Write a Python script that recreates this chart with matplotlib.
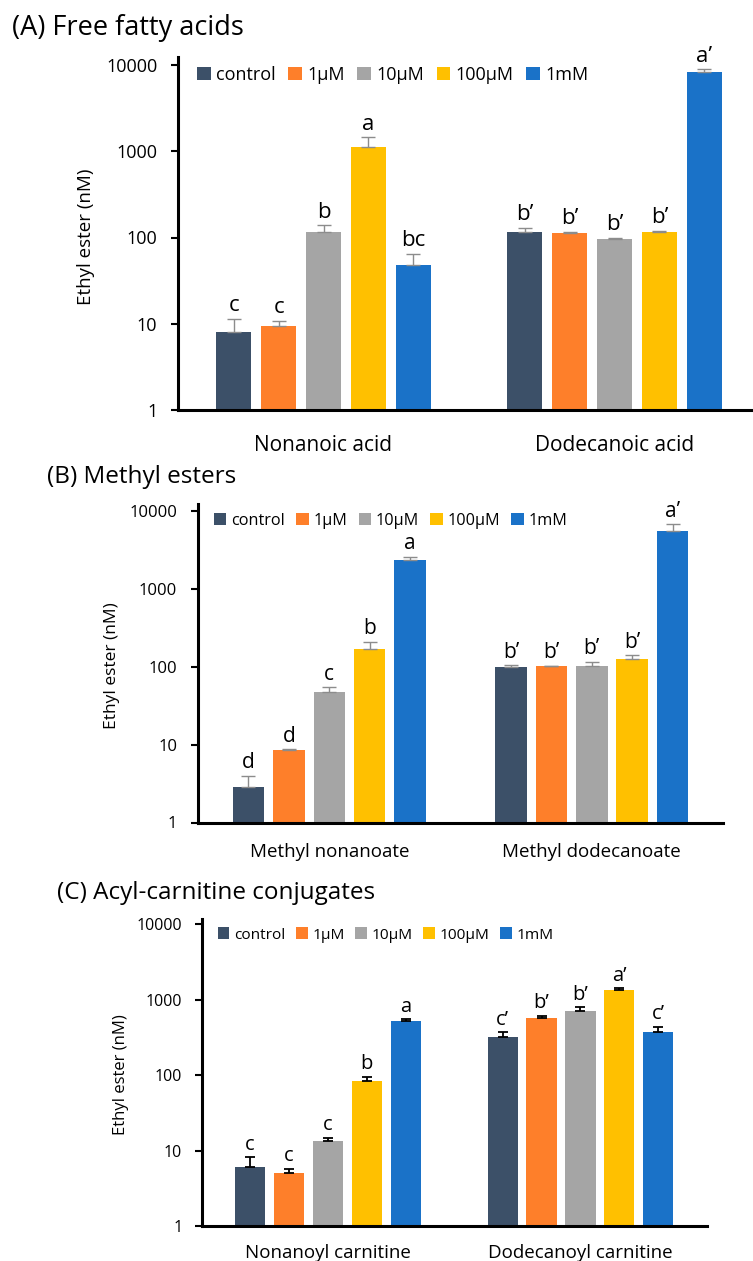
import numpy as np
import matplotlib
matplotlib.use("Agg")
import matplotlib.pyplot as plt
from matplotlib.patches import Patch

plt.rcParams["font.family"] = ["Open Sans", "DejaVu Sans"]

# data (nM, log axis); err = upper error bar only
conc = ["control", "1µM", "10µM", "100µM", "1mM"]
colors = ["#3C5068", "#FE7F2A", "#A5A5A5", "#FFC000", "#1A72C8"]

ffa_labels = ["Nonanoic acid", "Dodecanoic acid"]
ffa_c9 = [8.0, 9.4, 115, 1110, 48]
ffa_c9_err = [3.3, 1.4, 23, 340, 16]
ffa_c9_sig = ["c", "c", "b", "a", "bc"]
ffa_c12 = [117, 112, 95, 115, 8350]
ffa_c12_err = [13, 3, 3, 4, 550]
ffa_c12_sig = ["b’", "b’", "b’", "b’", "a’"]

me_labels = ["Methyl nonanoate", "Methyl dodecanoate"]
me_c9 = [2.88, 8.6, 47.8, 169, 2340]
me_c9_err = [1.05, 0.1, 6.6, 38, 245]
me_c9_sig = ["d", "d", "c", "b", "a"]
me_c12 = [100, 101, 102, 127, 5570]
me_c12_err = [4, 1, 13, 13, 1160]
me_c12_sig = ["b’", "b’", "b’", "b’", "a’"]

car_labels = ["Nonanoyl carnitine", "Dodecanoyl carnitine"]
car_c9 = [6.1, 5.0, 13.3, 84, 523]
car_c9_err = [2.0, 0.7, 1.6, 10, 27]
car_c9_sig = ["c", "c", "c", "b", "a"]
car_c12 = [324, 573, 716, 1350, 374]
car_c12_err = [45, 37, 78, 67, 66]
car_c12_sig = ["c’", "b’", "b’", "a’", "c’"]

W, H = 753, 1261
fig = plt.figure(figsize=(W / 100, H / 100), dpi=100)


def px_axes(left, right, top, bottom):
    return fig.add_axes([left / W, 1 - bottom / H, (right - left) / W, (bottom - top) / H])


def panel(ax, labels, means, errs, sigs, ytop, ecolor, fs):
    step, width = 0.154, 0.12
    for i in range(len(conc)):
        xs = np.arange(2) + (i - 2) * step
        vals = [m[i] for m in means]
        ev = [e[i] for e in errs]
        ax.bar(xs, vals, width, color=colors[i], zorder=2)
        ax.errorbar(xs, vals, yerr=[np.zeros(2), ev], fmt="none", ecolor=ecolor,
                    elinewidth=fs["elw"], capsize=fs["cap"], capthick=fs["elw"], zorder=3)
        for x, v, e, s in zip(xs, vals, ev, [sg[i] for sg in sigs]):
            ax.annotate(s, (x, v + e), xytext=(0, 2), textcoords="offset points",
                        ha="center", va="bottom", fontsize=fs["sig"])
    ax.set_yscale("log")
    ax.set_ylim(1, ytop)
    ax.set_xlim(-0.5, 1.5)
    ax.set_yticks([1, 10, 100, 1000, 10000])
    ax.set_yticklabels(["1", "10", "100", "1000", "10000"])
    ax.minorticks_off()
    ax.set_xticks([0, 1])
    ax.set_xticklabels(labels)
    ax.tick_params(axis="x", length=0, pad=fs["xpad"], labelsize=fs["xlab"])
    ax.tick_params(axis="y", length=5, width=1.5, pad=fs["ypad"], labelsize=fs["ytick"])
    for side in ["top", "right"]:
        ax.spines[side].set_visible(False)
    for side in ["left", "bottom"]:
        ax.spines[side].set_linewidth(2.2)


def legend(ax, x, y, size):
    handles = [Patch(facecolor=c, edgecolor="none") for c in colors]
    ax.legend(handles, conc, ncol=5, frameon=False, loc="center left",
              bbox_to_anchor=(x / W, 1 - y / H), bbox_transform=fig.transFigure,
              borderpad=0, handlelength=0.75, handleheight=0.75, handletextpad=0.3,
              columnspacing=0.7, fontsize=size)


def ylab(x, y, size):
    fig.text(x / W, 1 - y / H, "Ethyl ester (nM)", rotation=90, fontsize=size,
             ha="center", va="center")


# (A)
axA = px_axes(178, 760, 57, 410)
panel(axA, ffa_labels, [ffa_c9, ffa_c12], [ffa_c9_err, ffa_c12_err], [ffa_c9_sig, ffa_c12_sig],
      10 ** (4 + 8 / 86.25), "#8C8C8C",
      dict(sig=16, xpad=18, xlab=15, ypad=10, ytick=13, elw=1.0, cap=5))
ylab(86, 237, 13.5)
legend(axA, 188, 75, 13)
fig.text(12 / W, 1 - 28 / H, "(A) Free fatty acids", fontsize=19.5, va="center", ha="left")

# (B)
axB = px_axes(198, 723, 504, 822.5)
panel(axB, me_labels, [me_c9, me_c12], [me_c9_err, me_c12_err], [me_c9_sig, me_c12_sig],
      10 ** (4 + 7 / 77.9), "#8C8C8C",
      dict(sig=15, xpad=15, xlab=13.5, ypad=10, ytick=12, elw=1.0, cap=5))
ylab(112, 666, 12.5)
legend(axB, 206, 521, 11.7)
fig.text(47 / W, 1 - 477 / H, "(B) Methyl esters", fontsize=17.5, va="center", ha="left")

# (C)
axC = px_axes(201.7, 706.7, 919, 1226)
panel(axC, car_labels, [car_c9, car_c12], [car_c9_err, car_c12_err], [car_c9_sig, car_c12_sig],
      10 ** (4 + 5.3 / 75.4), "#000000",
      dict(sig=14.5, xpad=13, xlab=13.5, ypad=9, ytick=11.5, elw=1.3, cap=3.5))
ylab(121, 1075, 12)
legend(axC, 210, 935, 11.1)
fig.text(57 / W, 1 - 893 / H, "(C) Acyl-carnitine conjugates", fontsize=17.5, va="center", ha="left")

fig.savefig("out.png", dpi=100)
